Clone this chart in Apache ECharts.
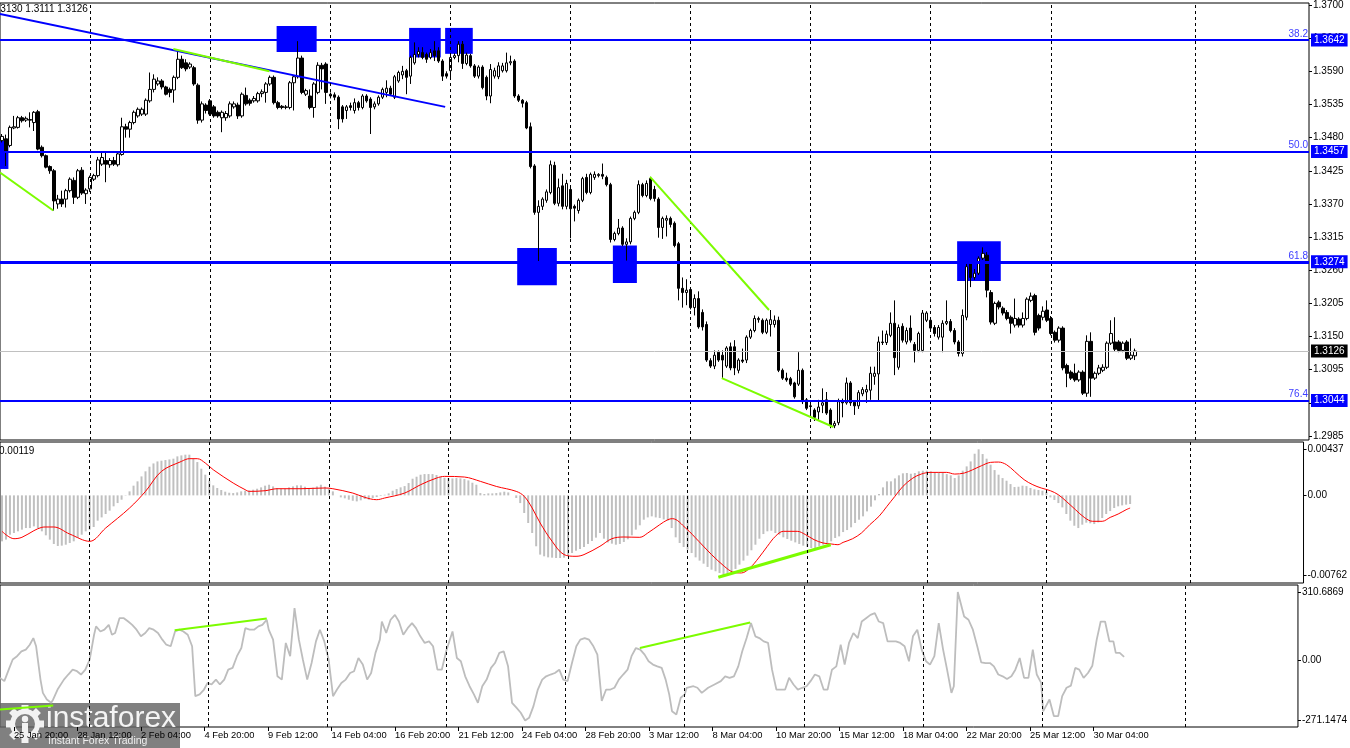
<!DOCTYPE html>
<html><head><meta charset="utf-8">
<script src="https://cdn.jsdelivr.net/npm/echarts@6/dist/echarts.min.js"></script>
<style>html,body{margin:0;padding:0;background:#fff;overflow:hidden}#c{width:1350px;height:748px}</style>
</head><body><div id="c"></div>
<script>
// ---------------- DATA ----------------
// H4 bars: first bar 25 Jan 2022 08:00 (server time), weekends skipped
const firstBarUTC = Date.UTC(2022, 0, 25, 8);
const totalSlots = 327; // bars + empty right margin of the chart
const xTickLabels = ['25 Jan 20:00','28 Jan 12:00','2 Feb 04:00','4 Feb 20:00','9 Feb 12:00','14 Feb 04:00',
  '16 Feb 20:00','21 Feb 12:00','24 Feb 04:00','28 Feb 20:00','3 Mar 12:00','8 Mar 04:00','10 Mar 20:00',
  '15 Mar 12:00','18 Mar 04:00','22 Mar 20:00','25 Mar 12:00','30 Mar 04:00'];
const weekSeparators = ['31 Jan 00:00','7 Feb 00:00','14 Feb 00:00','21 Feb 00:00','28 Feb 00:00',
  '7 Mar 00:00','14 Mar 00:00','21 Mar 00:00','28 Mar 00:00','5 Apr 00:00'];
const priceTicks = [1.2985,1.3040,1.3095,1.3150,1.3205,1.3260,1.3315,1.3370,1.3425,1.3480,1.3535,1.3590,1.3645,1.3700];
const macdTicks = [-0.00762, 0, 0.00437];
const cciTicks = [-271.1474, 0, 310.6869];

// candles: [open, close, low, high]
const candles = [
[1.3475,1.3482,1.3472,1.3486],[1.3478,1.3458,1.3433,1.3485],[1.3467,1.3497,1.3464,1.3500],[1.3496,1.3498,1.3494,1.3516],[1.3497,1.3513,1.3495,1.3516],
[1.3513,1.3508,1.3505,1.3516],[1.3509,1.3512,1.3506,1.3515],[1.3510,1.3509,1.3497,1.3522],[1.3505,1.3522,1.3491,1.3524],[1.3523,1.3461,1.3459,1.3526],
[1.3464,1.3450,1.3447,1.3467],[1.3450,1.3431,1.3429,1.3452],[1.3432,1.3425,1.3420,1.3434],[1.3425,1.3375,1.3359,1.3428],[1.3370,1.3378,1.3362,1.3385],
[1.3378,1.3370,1.3365,1.3392],[1.3378,1.3392,1.3364,1.3395],[1.3392,1.3411,1.3389,1.3414],[1.3409,1.3381,1.3370,1.3414],[1.3381,1.3425,1.3378,1.3428],
[1.3426,1.3388,1.3385,1.3431],[1.3387,1.3393,1.3370,1.3396],[1.3395,1.3414,1.3390,1.3417],[1.3411,1.3417,1.3408,1.3420],[1.3417,1.3443,1.3414,1.3448],
[1.3436,1.3447,1.3433,1.3455],[1.3442,1.3436,1.3406,1.3457],[1.3435,1.3442,1.3430,1.3446],[1.3442,1.3436,1.3433,1.3448],[1.3435,1.3453,1.3432,1.3456],
[1.3452,1.3498,1.3450,1.3513],[1.3498,1.3494,1.3480,1.3503],[1.3494,1.3505,1.3480,1.3508],[1.3505,1.3522,1.3502,1.3525],[1.3516,1.3527,1.3513,1.3530],
[1.3519,1.3527,1.3516,1.3530],[1.3519,1.3542,1.3516,1.3545],[1.3541,1.3560,1.3538,1.3588],[1.3560,1.3577,1.3555,1.3585],[1.3569,1.3574,1.3566,1.3580],
[1.3574,1.3564,1.3560,1.3577],[1.3564,1.3552,1.3550,1.3566],[1.3560,1.3555,1.3547,1.3563],[1.3559,1.3580,1.3538,1.3583],[1.3580,1.3610,1.3577,1.3624],
[1.3610,1.3596,1.3594,1.3616],[1.3604,1.3594,1.3590,1.3610],[1.3597,1.3602,1.3594,1.3605],[1.3596,1.3569,1.3566,1.3599],[1.3567,1.3509,1.3503,1.3570],
[1.3509,1.3536,1.3505,1.3540],[1.3534,1.3525,1.3520,1.3537],[1.3541,1.3519,1.3516,1.3544],[1.3531,1.3516,1.3513,1.3534],[1.3522,1.3516,1.3513,1.3525],
[1.3513,1.3522,1.3489,1.3525],[1.3513,1.3520,1.3508,1.3524],[1.3516,1.3536,1.3513,1.3540],[1.3531,1.3536,1.3528,1.3540],[1.3534,1.3516,1.3511,1.3538],
[1.3516,1.3552,1.3513,1.3555],[1.3550,1.3536,1.3533,1.3563],[1.3542,1.3537,1.3533,1.3545],[1.3541,1.3545,1.3538,1.3549],[1.3541,1.3553,1.3538,1.3556],
[1.3553,1.3556,1.3547,1.3560],[1.3555,1.3569,1.3538,1.3572],[1.3569,1.3580,1.3566,1.3583],[1.3580,1.3538,1.3535,1.3583],[1.3538,1.3530,1.3527,1.3541],
[1.3532,1.3530,1.3527,1.3534],[1.3530,1.3531,1.3527,1.3534],[1.3530,1.3571,1.3527,1.3574],[1.3571,1.3581,1.3525,1.3583],[1.3581,1.3612,1.3578,1.3640],
[1.3612,1.3555,1.3552,1.3616],[1.3552,1.3558,1.3549,1.3561],[1.3549,1.3530,1.3527,1.3560],[1.3530,1.3569,1.3513,1.3572],[1.3555,1.3600,1.3552,1.3605],
[1.3600,1.3594,1.3560,1.3604],[1.3602,1.3555,1.3536,1.3605],[1.3552,1.3549,1.3545,1.3555],[1.3551,1.3547,1.3542,1.3555],[1.3547,1.3511,1.3494,1.3550],
[1.3531,1.3511,1.3505,1.3534],[1.3525,1.3531,1.3511,1.3534],[1.3533,1.3530,1.3525,1.3538],[1.3525,1.3538,1.3520,1.3545],[1.3538,1.3530,1.3525,1.3541],
[1.3530,1.3549,1.3527,1.3552],[1.3549,1.3541,1.3538,1.3552],[1.3544,1.3530,1.3486,1.3547],[1.3531,1.3536,1.3527,1.3540],[1.3536,1.3547,1.3533,1.3550],
[1.3547,1.3560,1.3544,1.3563],[1.3555,1.3562,1.3547,1.3575],[1.3562,1.3552,1.3549,1.3566],[1.3547,1.3581,1.3544,1.3584],[1.3574,1.3588,1.3571,1.3591],
[1.3584,1.3590,1.3577,1.3599],[1.3591,1.3580,1.3552,1.3594],[1.3582,1.3613,1.3569,1.3616],[1.3604,1.3618,1.3601,1.3638],[1.3618,1.3623,1.3613,1.3630],
[1.3621,1.3613,1.3610,1.3630],[1.3618,1.3610,1.3604,1.3621],[1.3613,1.3621,1.3610,1.3627],[1.3624,1.3616,1.3607,1.3640],[1.3624,1.3607,1.3604,1.3630],
[1.3607,1.3582,1.3574,1.3610],[1.3586,1.3582,1.3578,1.3590],[1.3591,1.3613,1.3580,1.3616],[1.3613,1.3616,1.3610,1.3620],[1.3616,1.3635,1.3605,1.3640],
[1.3635,1.3603,1.3594,1.3642],[1.3603,1.3617,1.3600,1.3621],[1.3616,1.3599,1.3596,1.3619],[1.3599,1.3582,1.3579,1.3602],[1.3582,1.3597,1.3578,1.3600],
[1.3597,1.3563,1.3560,1.3600],[1.3580,1.3549,1.3542,1.3583],[1.3549,1.3593,1.3537,1.3602],[1.3582,1.3591,1.3578,1.3596],[1.3581,1.3599,1.3577,1.3605],
[1.3591,1.3599,1.3588,1.3604],[1.3591,1.3604,1.3588,1.3621],[1.3604,1.3606,1.3600,1.3616],[1.3607,1.3549,1.3546,1.3610],[1.3549,1.3542,1.3539,1.3552],
[1.3542,1.3537,1.3530,1.3544],[1.3538,1.3496,1.3494,1.3541],[1.3498,1.3432,1.3429,1.3505],[1.3433,1.3356,1.3352,1.3436],[1.3356,1.3366,1.3273,1.3376],
[1.3366,1.3378,1.3360,1.3381],[1.3376,1.3390,1.3372,1.3394],[1.3389,1.3435,1.3386,1.3442],[1.3434,1.3371,1.3368,1.3440],[1.3371,1.3397,1.3366,1.3412],
[1.3400,1.3366,1.3361,1.3420],[1.3366,1.3404,1.3361,1.3410],[1.3394,1.3362,1.3313,1.3399],[1.3366,1.3363,1.3341,1.3369],[1.3359,1.3376,1.3354,1.3379],
[1.3376,1.3412,1.3373,1.3415],[1.3414,1.3389,1.3386,1.3420],[1.3389,1.3419,1.3386,1.3422],[1.3414,1.3419,1.3410,1.3424],[1.3417,1.3419,1.3414,1.3421],
[1.3419,1.3416,1.3411,1.3437],[1.3414,1.3402,1.3399,1.3417],[1.3402,1.3311,1.3306,1.3405],[1.3311,1.3321,1.3308,1.3324],[1.3321,1.3330,1.3318,1.3345],
[1.3330,1.3303,1.3300,1.3333],[1.3303,1.3307,1.3276,1.3313],[1.3307,1.3346,1.3303,1.3349],[1.3346,1.3356,1.3343,1.3359],[1.3356,1.3402,1.3353,1.3409],
[1.3402,1.3384,1.3381,1.3405],[1.3384,1.3404,1.3381,1.3409],[1.3412,1.3379,1.3376,1.3415],[1.3394,1.3379,1.3374,1.3400],[1.3378,1.3331,1.3314,1.3381],
[1.3331,1.3346,1.3312,1.3349],[1.3343,1.3346,1.3316,1.3351],[1.3346,1.3336,1.3331,1.3349],[1.3338,1.3301,1.3298,1.3341],[1.3304,1.3230,1.3210,1.3307],
[1.3230,1.3223,1.3198,1.3248],[1.3223,1.3227,1.3202,1.3245],[1.3228,1.3198,1.3195,1.3232],[1.3198,1.3213,1.3185,1.3220],[1.3213,1.3166,1.3163,1.3225],
[1.3190,1.3166,1.3160,1.3195],[1.3170,1.3111,1.3108,1.3175],[1.3110,1.3101,1.3098,1.3114],[1.3101,1.3119,1.3096,1.3127],[1.3124,1.3111,1.3108,1.3127],
[1.3119,1.3111,1.3081,1.3127],[1.3101,1.3131,1.3098,1.3134],[1.3133,1.3098,1.3094,1.3140],[1.3133,1.3098,1.3086,1.3144],[1.3094,1.3111,1.3089,1.3114],
[1.3111,1.3109,1.3106,1.3130],[1.3111,1.3149,1.3106,1.3152],[1.3149,1.3160,1.3146,1.3163],[1.3160,1.3180,1.3157,1.3185],[1.3178,1.3180,1.3173,1.3183],
[1.3177,1.3157,1.3154,1.3180],[1.3157,1.3177,1.3154,1.3180],[1.3170,1.3178,1.3150,1.3194],[1.3170,1.3177,1.3165,1.3185],[1.3177,1.3094,1.3091,1.3183],
[1.3094,1.3081,1.3078,1.3097],[1.3081,1.3078,1.3075,1.3090],[1.3080,1.3071,1.3068,1.3083],[1.3073,1.3050,1.3047,1.3075],[1.3071,1.3094,1.3068,1.3124],
[1.3094,1.3042,1.3038,1.3097],[1.3045,1.3031,1.3028,1.3048],[1.3035,1.3034,1.3020,1.3040],[1.3028,1.3016,1.3010,1.3031],[1.3025,1.3033,1.3012,1.3045],
[1.3036,1.3040,1.3023,1.3064],[1.3045,1.3023,1.3020,1.3058],[1.3028,1.3003,1.2998,1.3031],[1.3002,1.3006,1.2998,1.3010],[1.3007,1.3042,1.3003,1.3047],
[1.3042,1.3040,1.3016,1.3047],[1.3040,1.3073,1.3037,1.3082],[1.3073,1.3040,1.3035,1.3076],[1.3041,1.3035,1.3020,1.3044],[1.3035,1.3057,1.3030,1.3061],
[1.3055,1.3062,1.3051,1.3066],[1.3058,1.3062,1.3040,1.3070],[1.3061,1.3089,1.3045,1.3100],[1.3084,1.3089,1.3070,1.3100],[1.3088,1.3141,1.3042,1.3150],
[1.3141,1.3140,1.3136,1.3160],[1.3140,1.3154,1.3136,1.3160],[1.3152,1.3172,1.3149,1.3190],[1.3172,1.3115,1.3086,1.3210],[1.3099,1.3165,1.3095,1.3170],
[1.3167,1.3144,1.3140,1.3172],[1.3141,1.3160,1.3137,1.3165],[1.3164,1.3144,1.3140,1.3185],[1.3137,1.3127,1.3107,1.3141],[1.3127,1.3155,1.3124,1.3158],
[1.3127,1.3189,1.3124,1.3194],[1.3177,1.3189,1.3174,1.3192],[1.3177,1.3164,1.3160,1.3180],[1.3165,1.3155,1.3150,1.3169],[1.3149,1.3165,1.3145,1.3169],
[1.3149,1.3172,1.3124,1.3177],[1.3172,1.3175,1.3169,1.3210],[1.3175,1.3160,1.3157,1.3179],[1.3160,1.3141,1.3137,1.3164],[1.3141,1.3122,1.3117,1.3144],
[1.3122,1.3185,1.3117,1.3195],[1.3182,1.3266,1.3177,1.3274],[1.3271,1.3248,1.3232,1.3274],[1.3248,1.3255,1.3244,1.3262],[1.3255,1.3280,1.3252,1.3283],
[1.3280,1.3288,1.3277,1.3298],[1.3285,1.3227,1.3215,1.3290],[1.3223,1.3174,1.3170,1.3227],[1.3172,1.3205,1.3169,1.3208],[1.3207,1.3199,1.3195,1.3210],
[1.3197,1.3189,1.3185,1.3200],[1.3190,1.3180,1.3177,1.3194],[1.3182,1.3172,1.3155,1.3185],[1.3169,1.3180,1.3165,1.3213],[1.3179,1.3169,1.3165,1.3182],
[1.3169,1.3180,1.3165,1.3190],[1.3180,1.3212,1.3177,1.3215],[1.3210,1.3217,1.3207,1.3223],[1.3218,1.3157,1.3152,1.3221],[1.3185,1.3164,1.3160,1.3188],
[1.3182,1.3192,1.3177,1.3200],[1.3194,1.3177,1.3174,1.3210],[1.3180,1.3155,1.3152,1.3184],[1.3157,1.3144,1.3140,1.3160],[1.3144,1.3164,1.3140,1.3167],
[1.3164,1.3098,1.3094,1.3167],[1.3102,1.3089,1.3066,1.3105],[1.3091,1.3081,1.3078,1.3094],[1.3089,1.3078,1.3075,1.3105],[1.3078,1.3091,1.3075,1.3094],
[1.3091,1.3056,1.3053,1.3094],[1.3056,1.3142,1.3050,1.3152],[1.3142,1.3081,1.3050,1.3157],[1.3081,1.3089,1.3078,1.3092],[1.3089,1.3098,1.3086,1.3103],
[1.3094,1.3099,1.3091,1.3104],[1.3099,1.3139,1.3096,1.3142],[1.3139,1.3155,1.3136,1.3177],[1.3141,1.3129,1.3126,1.3182],[1.3141,1.3127,1.3124,1.3144],
[1.3127,1.3139,1.3124,1.3142],[1.3141,1.3114,1.3111,1.3144],[1.3114,1.3119,1.3111,1.3147],[1.3118,1.3126,1.3111,1.3130]
];

// MACD main (histogram) per bar
const macdHist = [
-0.00436,-0.00420,-0.00373,-0.00357,-0.00341,-0.00325,-0.00310,-0.00310,-0.00294,-0.00310,
-0.00341,-0.00379,-0.00420,-0.00461,-0.00480,-0.00477,-0.00468,-0.00452,-0.00436,-0.00404,
-0.00373,-0.00341,-0.00325,-0.00300,-0.00240,-0.00209,-0.00177,-0.00145,-0.00104,-0.00073,
-0.00041,-0.00003,0.00038,0.00092,0.00133,0.00180,0.00228,0.00272,0.00303,0.00322,
0.00329,0.00335,0.00341,0.00348,0.00370,0.00379,0.00386,0.00386,0.00348,0.00316,
0.00253,0.00196,0.00139,0.00095,0.00070,0.00051,0.00035,0.00025,0.00022,0.00028,
0.00038,0.00044,0.00047,0.00054,0.00063,0.00076,0.00092,0.00101,0.00085,0.00070,
0.00063,0.00063,0.00076,0.00085,0.00095,0.00095,0.00082,0.00070,0.00073,0.00085,
0.00101,0.00082,0.00063,0.00038,0.00000,-0.00019,-0.00028,-0.00041,-0.00051,-0.00057,
-0.00047,-0.00035,-0.00041,-0.00025,-0.00016,-0.00006,0.00006,0.00019,0.00044,0.00060,
0.00076,0.00088,0.00117,0.00158,0.00177,0.00196,0.00202,0.00202,0.00202,0.00193,
0.00177,0.00167,0.00164,0.00161,0.00164,0.00161,0.00155,0.00142,0.00120,0.00101,
0.00022,0.00013,0.00019,0.00019,0.00022,0.00028,0.00035,0.00028,0.00000,-0.00025,
-0.00073,-0.00167,-0.00262,-0.00357,-0.00483,-0.00562,-0.00578,-0.00588,-0.00591,-0.00594,
-0.00594,-0.00591,-0.00572,-0.00547,-0.00525,-0.00509,-0.00490,-0.00461,-0.00433,-0.00401,
-0.00357,-0.00411,-0.00446,-0.00458,-0.00468,-0.00461,-0.00442,-0.00417,-0.00379,-0.00325,
-0.00284,-0.00231,-0.00209,-0.00199,-0.00209,-0.00215,-0.00228,-0.00240,-0.00310,-0.00398,
-0.00452,-0.00490,-0.00515,-0.00547,-0.00588,-0.00619,-0.00648,-0.00679,-0.00705,-0.00720,
-0.00736,-0.00762,-0.00743,-0.00724,-0.00698,-0.00657,-0.00619,-0.00572,-0.00521,-0.00468,
-0.00411,-0.00367,-0.00341,-0.00335,-0.00357,-0.00373,-0.00398,-0.00414,-0.00430,-0.00446,
-0.00461,-0.00477,-0.00490,-0.00499,-0.00499,-0.00483,-0.00468,-0.00452,-0.00436,-0.00404,
-0.00389,-0.00348,-0.00329,-0.00303,-0.00262,-0.00231,-0.00199,-0.00152,-0.00107,-0.00047,
0.00013,0.00076,0.00133,0.00133,0.00161,0.00190,0.00209,0.00212,0.00205,0.00212,
0.00228,0.00234,0.00234,0.00228,0.00221,0.00221,0.00212,0.00202,0.00190,0.00164,
0.00190,0.00234,0.00275,0.00322,0.00395,0.00437,0.00392,0.00348,0.00291,0.00240,
0.00196,0.00164,0.00139,0.00107,0.00079,0.00082,0.00092,0.00088,0.00070,0.00057,
0.00051,0.00044,0.00032,-0.00019,-0.00044,-0.00073,-0.00114,-0.00177,-0.00240,-0.00288,
-0.00310,-0.00278,-0.00259,-0.00265,-0.00272,-0.00256,-0.00215,-0.00177,-0.00149,-0.00120,
-0.00104,-0.00095,-0.00088,-0.00082
];

// MACD signal line, read as [bar, value]
const macdSignal = [[0,-0.00341],[3,-0.00411],[5,-0.00398],[8,-0.00335],[10,-0.00303],[11,-0.00300],[13,-0.00300],[17,-0.00367],[22,-0.00436],[26,-0.00310],
[32,-0.00120],[36,0.00038],[40,0.00228],[45,0.00322],[47,0.00348],[49,0.00348],[51,0.00307],[53,0.00243],[58,0.00117],[61,0.00054],[62,0.00038],[66,0.00044],
[69,0.00063],[75,0.00063],[81,0.00070],[83,0.00063],[88,0.00022],[91,-0.00019],[94,-0.00041],[96,-0.00025],[101,0.00022],[105,0.00101],[109,0.00164],
[111,0.00180],[116,0.00174],[120,0.00133],[124,0.00085],[129,0.00038],[131,-0.00009],[133,-0.00120],[135,-0.00262],[138,-0.00436],[141,-0.00562],
[144,-0.00578],[146,-0.00562],[150,-0.00483],[153,-0.00411],[156,-0.00395],[160,-0.00398],[162,-0.00357],[165,-0.00278],[167,-0.00231],[168.2,-0.00221],
[171.5,-0.00310],[174.8,-0.00436],[178,-0.00562],[181.2,-0.00673],[183.3,-0.00727],[185.5,-0.00736],[187.6,-0.00689],[189.8,-0.00594],[192,-0.00483],
[194,-0.00389],[196,-0.00341],[199.5,-0.00341],[201.6,-0.00373],[203.7,-0.00420],[206,-0.00452],[208,-0.00461],[209.7,-0.00468],[211,-0.00446],
[213.4,-0.00411],[215.6,-0.00357],[217.7,-0.00278],[220,-0.00199],[222,-0.00104],[224,-0.00009],[226,0.00085],[228.5,0.00164],[230.6,0.00202],
[232.8,0.00218],[237,0.00218],[239,0.00202],[241.4,0.00212],[243.5,0.00243],[245.7,0.00281],[248,0.00313],[250,0.00316],[252,0.00291],[254,0.00228],
[256.4,0.00149],[258.6,0.00101],[260.7,0.00070],[263,0.00044],[265,0.00006],[267,-0.00057],[269.3,-0.00136],[271.5,-0.00209],[273.6,-0.00246],
[276,-0.00246],[278,-0.00209],[280,-0.00177],[282,-0.00136],[283,-0.00120]];

// CCI read as [bar, value]
const cciLine = [
[-0.5,-78],[0.6,-93],[1.7,-41],[2.7,5],[3.8,20],[4.9,42],[6,50],[7,72],[7.9,102],[8.6,65],
[9.7,-86],[10.3,-146],[11.3,-176],[12.4,-191],[12.9,-176],[14,-131],[15.6,-86],[16.7,-63],[17.8,-41],[18.9,-48],
[19.9,-63],[21,-41],[22.1,5],[23.2,117],[23.7,155],[24.8,132],[25.8,140],[26.9,162],[27.7,117],[28.5,125],
[29.6,192],[30.7,192],[31.8,177],[32.8,162],[33.9,140],[35,110],[36.1,125],[37.1,147],[38.2,140],[39.3,125],
[40.4,95],[41.4,72],[42.5,65],[43.6,132],[44.7,140],[45.7,132],[46.8,117],[47.9,65],[48.7,-161],[49.8,-153],
[50.9,-131],[51.8,-101],[52.8,-108],[53.9,-86],[54.9,-108],[56,-86],[57,-41],[58.1,-33],[59.2,20],[60.3,57],
[61.3,147],[62.4,140],[63.5,140],[64.6,155],[65.6,162],[66.7,185],[67.2,140],[68.3,95],[69.4,-71],[70.5,-86],
[71.5,80],[72.6,20],[73.7,238],[74.8,95],[75.8,5],[76.9,-86],[78,-11],[79.1,87],[80.1,140],[81.2,87],
[82.3,5],[83.4,-161],[84.4,-131],[85.5,-101],[86.6,-86],[87.7,-56],[88.7,-48],[89.8,12],[90.9,-18],[92,-86],
[93,-56],[94.1,35],[95.2,95],[95.7,177],[96.8,125],[97.9,185],[99,207],[100,177],[101.1,117],[102.2,147],
[103.3,170],[104.3,147],[105.4,110],[106.5,80],[107.6,87],[108.6,65],[109.7,-41],[110.8,-41],[111.9,42],[113.5,132],
[114.6,12],[115.6,-3],[116.7,-71],[117.8,-116],[118.9,-153],[119.9,-191],[121,-116],[122.1,-86],[123.2,-33],[124.2,-11],
[125.3,35],[126.4,42],[127.5,-26],[128.5,-191],[129.6,-213],[130.7,-236],[131.8,-271],[132.8,-259],[133.9,-206],[135,-131],
[136.1,-86],[137.1,-71],[138.2,-63],[139.3,-56],[140.4,-41],[141.4,-86],[142.5,-93],[143.6,-11],[144.7,65],[145.7,95],
[146.8,102],[147.9,95],[149,65],[150,27],[151.1,-183],[152.2,-131],[153.3,-131],[154.3,-123],[155.4,-86],[156.5,-63],
[157.6,-41],[158.6,20],[159.7,57],[160.8,50],[161.9,27],[162.9,-3],[164,-18],[165.1,-26],[166.2,-33],[167.2,-86],
[168.1,-153],[168.8,-229],[169.9,-244],[171,-168],[172,-153],[172.5,-123],[174.2,-116],[175.2,-123],[176.3,-146],[177.9,-123],
[179.5,-108],[181.1,-93],[182.2,-71],[183.3,-78],[184.4,-71],[185.5,-26],[186.5,42],[187.6,102],[188.7,170],[189.8,110],
[190.8,102],[191.9,87],[193,80],[194,-41],[195.1,-131],[196.2,-131],[197.3,-131],[198.3,-78],[199.4,-108],[200.5,-131],
[201.6,-123],[202.7,-116],[203.7,-93],[204.8,-63],[205.9,-71],[207,-131],[208,-131],[209.1,-41],[210.2,-26],[211.3,72],
[212.3,-18],[213.4,80],[214.5,125],[215.6,102],[216.6,177],[217.7,192],[218.8,207],[219.9,215],[220.9,177],[222,170],
[223.1,87],[224.2,87],[225.2,87],[226.3,80],[227.4,65],[228.5,-3],[229.5,110],[230.6,140],[231.7,50],[232.8,-3],
[233.8,-18],[234.9,20],[236,170],[237.1,50],[238.1,-41],[239.2,-146],[239.8,-116],[240.8,310.7],[242.4,200],[243.5,185],
[244.6,140],[245.7,65],[246.7,-8],[247.8,-11],[248.9,-11],[249.9,-26],[251,-63],[252.1,-71],[253.2,-83],[254.3,-71],
[255.3,-41],[256.4,12],[257.5,-78],[258.6,-78],[259.7,50],[260.7,-63],[261.8,-101],[262.3,-229],[262.8,-213],[263.9,-176],
[265,-251],[266.1,-251],[267.1,-161],[268.2,-123],[269.3,-113],[270.4,-33],[271.4,-41],[272.5,-78],[273.6,-56],[274.7,-23],
[275.8,95],[276.8,177],[277.9,177],[279,87],[280,87],[280.6,35],[281.6,35],[282.7,17]
];

// Fibonacci levels and current price
const fibLevels = [1.3642, 1.3457, 1.3274, 1.3044];
const fibNames = ['38.2', '50.0', '61.8', '76.4'];
const lastPrice = 1.3126;
const headerText = '1.3130 1.3111 1.3126';
const macdHeader = '0.00119';

// drawn objects: [barFrom, barTo, priceTop, priceBottom]
const blueBoxes = [
[68.6,78.6,1.3665,1.3622],[101.7,109.6,1.3662,1.3613],[110.7,117.6,1.3662,1.3619],[-0.5,1.6,1.3475,1.3428],
[128.7,138.6,1.3297,1.3235],[152.6,158.6,1.3301,1.3239],[238.6,249.5,1.3308,1.3242]];
const blueTrend = [[-0.5,1.3685],[110.7,1.3531]];
const priceGreen = [
[[-0.5,1.3422],[12.8,1.3359]],
[[42.8,1.3627],[66.8,1.3590]],
[[161.9,1.3415],[191.6,1.3194]],
[[179.8,1.3081],[207.7,1.3000]]];
const macdGreen = [[179.7,-0.00777],[207.9,-0.00468]];
const cciGreen = [
[[-0.5,-221],[12.9,-203]],
[[43.5,137],[66.7,191]],
[[160.7,57],[188.5,173]]];

// ---------------- BUILD ----------------
const MON = ['Jan','Feb','Mar','Apr','May','Jun','Jul','Aug','Sep','Oct','Nov','Dec'];
const categories = [];
for (let t = firstBarUTC; categories.length < totalSlots; t += 4 * 3600e3) {
  const d = new Date(t), wd = d.getUTCDay();
  if (wd === 0 || wd === 6) continue;
  categories.push(d.getUTCDate() + ' ' + MON[d.getUTCMonth()] + ' ' + String(d.getUTCHours()).padStart(2, '0') + ':00');
}
const tickSet = new Set(xTickLabels);
const labelInterval = (i) => tickSet.has(categories[i]);
const sepIdx = weekSeparators.map(s => categories.indexOf(s)).filter(i => i >= 0);

const FONT = '"Liberation Sans", Arial, sans-serif';
const G = [{top: 2, height: 438}, {top: 442, height: 141}, {top: 585, height: 142}];

function catAxis(gi, labels) {
  return {
    type: 'category', gridIndex: gi, data: categories, boundaryGap: true, position: 'bottom',
    axisLine: {show: false, onZero: false}, splitLine: {show: false},
    axisTick: labels ? {show: true, alignWithLabel: true, interval: labelInterval, length: 4, lineStyle: {color: '#000'}} : {show: false},
    axisLabel: labels ? {show: true, interval: labelInterval, align: 'left', color: '#000', fontSize: 9.4, fontFamily: FONT, margin: 4} : {show: false}
  };
}
function valAxis(gi) {
  return {type: 'value', gridIndex: gi, position: 'top', min: -0.5, max: totalSlots - 0.5, show: false,
    axisLine: {onZero: false}, splitLine: {show: false}};
}
function yAx(gi, min, max, ticks, fmt) {
  return {
    type: 'value', gridIndex: gi, position: 'right', min: min, max: max,
    axisLine: {show: false, onZero: false}, splitLine: {show: false},
    axisTick: {show: true, customValues: ticks, length: 3, lineStyle: {color: '#000'}},
    axisLabel: {show: true, customValues: ticks, formatter: fmt, color: '#000', fontSize: 10, fontFamily: FONT, margin: 4}
  };
}
// price scale: 1.3700 at y=4, 1.2985 at y=436 -> extend to pane edges
const pxPerPrice = 432 / (1.3700 - 1.2985);
const macdPx = 126.4 / (0.00437 + 0.00762);
const cciPx = 128.5 / (310.6869 + 271.1474);

const series = [];
// weekly dashed separators in each pane
[0,1,2].forEach(gi => {
  series.push({
    type: 'line', xAxisIndex: 3 + gi, yAxisIndex: gi, data: [], z: 1, silent: true,
    markLine: {symbol: 'none', silent: true, animation: false, label: {show: false},
      lineStyle: {color: '#000', type: [3, 3], width: 1},
      data: sepIdx.map(i => ({xAxis: i}))}
  });
});
// blue boxes (behind candles)
series.push({
  type: 'custom', xAxisIndex: 3, yAxisIndex: 0, z: 1, silent: true,
  data: blueBoxes,
  renderItem: (params, api) => {
    const p0 = api.coord([api.value(0), api.value(2)]);
    const p1 = api.coord([api.value(1), api.value(3)]);
    return {type: 'rect', shape: {x: p0[0], y: p0[1], width: p1[0] - p0[0], height: p1[1] - p0[1]}, style: {fill: '#0000ff'}};
  }
});
// fib lines + price labels (attached to the candle series)
const fibWidths = [2, 2, 3, 2];
const mlData = [];
fibLevels.forEach((v, k) => {
  mlData.push({yAxis: v, lineStyle: {color: '#0000ff', width: fibWidths[k], type: 'solid'},
    label: {show: true, position: 'end', formatter: v.toFixed(4), backgroundColor: '#0000ff', color: '#fff',
      padding: [2, 3, 1, 3], fontSize: 10, fontFamily: FONT, distance: 2}});
  mlData.push({yAxis: v, lineStyle: {color: 'rgba(0,0,0,0)', width: 1, type: 'solid'},
    label: {show: true, position: 'insideEndTop', formatter: fibNames[k], color: '#3c3cff', fontSize: 10, fontFamily: FONT, distance: 1}});
});
mlData.push({yAxis: lastPrice, lineStyle: {color: '#c0c0c0', width: 1, type: 'solid'},
  label: {show: true, position: 'end', formatter: lastPrice.toFixed(4), backgroundColor: '#000', color: '#fff',
    padding: [2, 3, 1, 3], fontSize: 10, fontFamily: FONT, distance: 2}});
// candles
series.push({
  type: 'candlestick', xAxisIndex: 0, yAxisIndex: 0, data: candles, barWidth: 3, z: 3,
  itemStyle: {color: '#ffffff', color0: '#000000', borderColor: '#000000', borderColor0: '#000000', borderWidth: 1},
  markLine: {symbol: 'none', silent: true, animation: false, precision: 4, data: mlData}
});
// trend lines
series.push({type: 'line', xAxisIndex: 3, yAxisIndex: 0, data: blueTrend, symbol: 'none', z: 4,
  lineStyle: {color: '#0000ff', width: 2}});
priceGreen.forEach(seg => series.push({type: 'line', xAxisIndex: 3, yAxisIndex: 0, data: seg, symbol: 'none', z: 5,
  lineStyle: {color: '#7cfc00', width: 2}}));
// MACD
series.push({type: 'bar', xAxisIndex: 1, yAxisIndex: 1, data: macdHist, barWidth: 2, z: 2,
  itemStyle: {color: '#c0c0c0'}});
series.push({type: 'line', xAxisIndex: 4, yAxisIndex: 1, data: macdSignal, symbol: 'none', smooth: 0.35, z: 3,
  lineStyle: {color: '#ff0000', width: 1}});
series.push({type: 'line', xAxisIndex: 4, yAxisIndex: 1, data: macdGreen, symbol: 'none', z: 4,
  lineStyle: {color: '#7cfc00', width: 3}});
// CCI
series.push({type: 'line', xAxisIndex: 5, yAxisIndex: 2, data: cciLine, symbol: 'none', z: 3,
  lineStyle: {color: '#bdbdbd', width: 1.8}});
cciGreen.forEach(seg => series.push({type: 'line', xAxisIndex: 5, yAxisIndex: 2, data: seg, symbol: 'none', z: 4,
  lineStyle: {color: '#7cfc00', width: 2}}));

const chart = echarts.init(document.getElementById('c'), null, {renderer: 'canvas'});
const gearTeeth = [];
for (let k = 0; k < 8; k++) {
  gearTeeth.push({type: 'rect', rotation: k * Math.PI / 4, shape: {x: -3.5, y: -19, width: 7, height: 7}, style: {fill: '#f2f2f2'}});
}
chart.setOption({
  animation: false,
  backgroundColor: '#ffffff',
  textStyle: {fontFamily: FONT},
  grid: G.map(g => ({left: 0, right: 41, top: g.top, height: g.height, show: true, borderColor: '#000', borderWidth: 1, containLabel: false})),
  xAxis: [catAxis(0, false), catAxis(1, false), catAxis(2, true), valAxis(0), valAxis(1), valAxis(2)],
  yAxis: [
    yAx(0, 1.2985 - 4 / pxPerPrice, 1.3700 + 2 / pxPerPrice, priceTicks, v => v.toFixed(4)),
    yAx(1, -0.00762 - 7.3 / macdPx, 0.00437 + 7.3 / macdPx, macdTicks, v => (v === 0 ? '0.00' : v.toFixed(5))),
    yAx(2, -271.1474 - 6.5 / cciPx, 310.6869 + 7 / cciPx, cciTicks, v => (v === 0 ? '0.00' : v.toFixed(4)))
  ],
  series: series,
  graphic: [
    {type: 'text', x: -8, y: 4, z: 10, style: {text: headerText, fill: '#000', font: '10px ' + FONT}},
    {type: 'text', x: -1, y: 446, z: 10, style: {text: macdHeader, fill: '#000', font: '10px ' + FONT}},
    {type: 'group', z: 100, children: [
      {type: 'rect', shape: {x: 0, y: 703, width: 180, height: 45}, style: {fill: 'rgba(100,100,100,0.82)'}},
      {type: 'group', x: 25, y: 724, children: gearTeeth.concat([
        {type: 'ring', shape: {cx: 0, cy: 0, r: 15, r0: 10}, style: {fill: '#f2f2f2'}},
        {type: 'circle', shape: {cx: 0, cy: -5, r: 3.2}, style: {fill: '#f2f2f2'}},
        {type: 'rect', shape: {x: -3, y: -1, width: 6, height: 16}, style: {fill: '#f2f2f2'}}
      ])},
      {type: 'text', x: 46, y: 704, style: {text: 'instaforex', fill: '#f4f4f4', font: '30px "Liberation Sans", Arial, sans-serif'}},
      {type: 'text', x: 48, y: 736, style: {text: 'Instant Forex Trading', fill: '#eeeeee', font: '10.5px "Liberation Sans", Arial, sans-serif'}}
    ]}
  ]
});
</script></body></html>
